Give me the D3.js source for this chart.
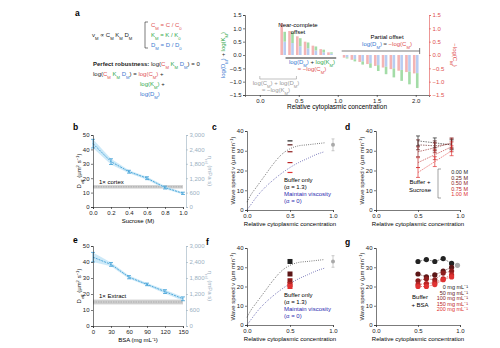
<!DOCTYPE html>
<html>
<head>
<meta charset="utf-8">
<script src="https://cdnjs.cloudflare.com/ajax/libs/d3/7.8.5/d3.min.js"></script>
<style>
  body { margin: 0; background: #fff; }
  svg { font-family: "Liberation Sans", Arial, sans-serif; }
  .tick text { font-size: 6px; fill: #222; }
  .domain, .tick line { stroke: #222; stroke-width: 0.6; }
</style>
</head>
<body>
<script>
(function(){
  // *************************************************** //
  // data
  // panel a: relative cytoplasmic concentration and log contributions
  var aConc   = [0.3, 0.4, 0.5, 0.6, 0.7, 0.8, 0.9, 1.1, 1.2, 1.3, 1.4, 1.5, 1.6, 1.7, 1.8, 1.9, 2.0];
  var aNegLogC = [1.20, 0.90, 0.70, 0.50, 0.35, 0.22, 0.10, -0.10, -0.18, -0.26, -0.34, -0.41, -0.47, -0.53, -0.59, -0.64, -0.69];
  var aLogD   = [0.50, 0.45, 0.33, 0.25, 0.17, 0.10, 0.05, -0.09, -0.16, -0.24, -0.31, -0.38, -0.44, -0.50, -0.56, -0.62, -0.68];
  var aLogK   = [0.37, 0.40, 0.30, 0.22, 0.15, 0.10, 0.05, -0.04, -0.08, -0.12, -0.17, -0.22, -0.28, -0.34, -0.41, -0.48, -0.56];
  var aXTicks = [0, 0.5, 1.0, 1.5, 2.0];
  var aYTicks = [-1.5, -1.0, -0.5, 0, 0.5, 1.0, 1.5];

  // panel b: diffusion vs sucrose
  var sucrose     = [0, 0.2, 0.4, 0.6, 0.8, 1.0];
  var sucroseD    = [44, 31.5, 24.5, 20, 13.5, 9.5];
  var sucroseErr  = [3, 2, 1, 1, 1, 0.8];
  var cortexD     = [12.8, 15.2];
  // panel e: diffusion vs BSA
  var bsa         = [0, 30, 60, 90, 120, 150];
  var bsaD        = [43, 38.5, 30.5, 26, 21.5, 17];
  var bsaErr      = [3, 1.2, 1, 0.8, 1.2, 1.2];
  var extractD    = [13.5, 16.5];
  var rightTicks  = [0, 600, 1200, 1800, 2400, 3000];

  // panels c/d: wave speed with sucrose
  var sucLabels = ["0.00 M", "0.25 M", "0.50 M", "0.75 M", "1.00 M"];
  var dilution  = [0.5, 0.7, 0.9];
  var sucSpeed  = [[35, 34, 33], [33, 32.5, 33.5], [29.5, 31.5, 34], [24, 28, 32], [19, 24.5, 30]];
  // panels f/g: wave speed with BSA
  var bsaLabels = ["0 mg mL\u207B\u00B9", "50 mg mL\u207B\u00B9", "100 mg mL\u207B\u00B9", "150 mg mL\u207B\u00B9", "200 mg mL\u207B\u00B9"];
  var dilution5 = [0.5, 0.6, 0.7, 0.8, 0.9];
  var bsaSpeed  = [[33, 34, 33, 34.5, 32], [26.5, 25, 26, 28, 30], [23, 24, 23.5, 27, 28], [21, 21.5, 22, 24, 26], [20, 20, 21, 23.5, 25]];
  var extractSpeed = [1.0, 33];

  // model curves (buffer only / maintain viscosity)
  var curveX      = [0, 0.05, 0.1, 0.2, 0.3, 0.4, 0.5, 0.6, 0.7, 0.8, 0.9];
  var curveBuffer = [4, 8, 11, 17, 23, 28, 31, 32.5, 33, 33.5, 34];
  var curveVisc   = [0, 3, 6, 11, 15, 18.5, 21.5, 24, 26, 28, 29.5];

  var shades = ["#222222", "#5c1616", "#8e1d1d", "#bb2424", "#e03232"];
  var red = "#e0504f", green = "#2fa84a", blue = "#3a78d0", cyan = "#2c96d2";

  var svg = d3.select("body").append("svg")
    .attr("width", 500).attr("height", 348);

  // *************************************************** //
  // text with coloured parts and subscripts
  function rich(g, x, y, parts, size, anchor){
    var t = g.append("text").attr("x", x).attr("y", y)
      .attr("font-size", size || 6)
      .attr("text-anchor", anchor || "start");
    parts.forEach(function(p){
      var s = t.append("tspan").text(p[0]).attr("fill", p[1] || "#222");
      if (p[2] == "sub") s.attr("baseline-shift", "sub").attr("font-size", (size || 6) * 0.7);
      if (p[2] == "sup") s.attr("baseline-shift", "super").attr("font-size", (size || 6) * 0.7);
      if (p[2] == "b") s.attr("font-weight", "bold");
    });
    return t;
  }

  function letter(x, y, s){
    svg.append("text").attr("x", x).attr("y", y)
      .attr("font-size", 8.5).attr("font-weight", "bold").text(s);
  }

  function axes(x, y, xt, yt, xf, yf){
    svg.append("g").attr("transform", "translate(0," + y.range()[0] + ")")
      .call(d3.axisBottom(x).tickValues(xt).tickSize(2).tickPadding(1.5).tickFormat(xf));
    svg.append("g").attr("transform", "translate(" + x.range()[0] + ",0)")
      .call(d3.axisLeft(y).tickValues(yt).tickSize(2).tickPadding(1.5).tickFormat(yf));
  }

  // *************************************************** //
  // panel a: equations
  letter(75, 16, "a");
  rich(svg, 92, 37, [["v"], ["M", null, "sub"], [" \u221D C"], ["M", null, "sub"], [" K"], ["M", null, "sub"], [" D"], ["M", null, "sub"]]);
  svg.append("path").attr("d", "M148,22 H145 V48 H148").attr("fill", "none").attr("stroke", "#222").attr("stroke-width", 0.6);
  rich(svg, 151, 27, [["C", red], ["M", red, "sub"], [" = C / C", red], ["0", red, "sub"]]);
  rich(svg, 151, 37, [["K", green], ["M", green, "sub"], [" = K / K", green], ["0", green, "sub"]]);
  rich(svg, 151, 47, [["D", blue], ["M", blue, "sub"], [" = D / D", blue], ["0", blue, "sub"]]);
  rich(svg, 93, 66, [["Perfect robustness:", null, "b"], ["  log("], ["C", red], ["M", red, "sub"], [" K", green], ["M", green, "sub"], [" D", blue], ["M", blue, "sub"], [") = 0"]]);
  rich(svg, 93, 76, [["log("], ["C", red], ["M", red, "sub"], [" K", green], ["M", green, "sub"], [" D", blue], ["M", blue, "sub"], [") = "], ["log(C", red], ["M", red, "sub"], [")", red], [" +"]]);
  rich(svg, 140, 86, [["log(K", green], ["M", green, "sub"], [")", green], [" +"]]);
  rich(svg, 140, 96, [["log(D", blue], ["M", blue, "sub"], [")", blue]]);

  // panel a: bar chart
  var ax = d3.scaleLinear().domain([-0.19, 2.17]).range([245, 429]);
  var ay = d3.scaleLinear().domain([-1.5, 1.5]).range([95, 15]);
  var bw = 2.6;

  svg.selectAll(".barC").data(aConc).enter().append("rect")
    .attr("class", "barC")
    .attr("x", function(d){ return ax(d) - bw - 0.2; })
    .attr("width", bw)
    .attr("y", function(d, i){ return ay(Math.max(0, aNegLogC[i])); })
    .attr("height", function(d, i){ return Math.abs(ay(aNegLogC[i]) - ay(0)); })
    .attr("fill", "#f4b4b4");
  svg.selectAll(".barD").data(aConc).enter().append("rect")
    .attr("class", "barD")
    .attr("x", function(d){ return ax(d) + 0.2; })
    .attr("width", bw)
    .attr("y", function(d, i){ return ay(Math.max(0, aLogD[i])); })
    .attr("height", function(d, i){ return Math.abs(ay(aLogD[i]) - ay(0)); })
    .attr("fill", "#b8cdf2");
  svg.selectAll(".barK").data(aConc).enter().append("rect")
    .attr("class", "barK")
    .attr("x", function(d){ return ax(d) + 0.2; })
    .attr("width", bw)
    .attr("y", function(d, i){ return ay(Math.max(aLogD[i], aLogD[i] + aLogK[i])); })
    .attr("height", function(d, i){ return Math.abs(ay(aLogK[i]) - ay(0)); })
    .attr("fill", "#a3dca7");

  svg.append("g").attr("transform", "translate(0,95)")
    .call(d3.axisBottom(ax).tickValues(aXTicks).tickSize(2).tickPadding(1.5).tickFormat(d3.format(".1f")));
  svg.append("g").attr("transform", "translate(245,0)")
    .call(d3.axisLeft(ay).tickValues(aYTicks).tickSize(2).tickPadding(1.5).tickFormat(d3.format(".1f")));
  var aRight = svg.append("g").attr("transform", "translate(429,0)")
    .call(d3.axisRight(ay).tickValues(aYTicks).tickSize(2).tickPadding(1.5).tickFormat(d3.format(".1f")));
  aRight.selectAll(".domain, .tick line").style("stroke", red);
  aRight.selectAll(".tick text").style("fill", red);

  svg.append("text").attr("x", 337).attr("y", 109).attr("font-size", 6.5)
    .attr("text-anchor", "middle").text("Relative cytoplasmic concentration");
  rich(svg, 0, 0, [["log(D", blue], ["M", blue, "sub"], [")", blue], [" + "], ["log(K", green], ["M", green, "sub"], [")", green]], 6, "middle")
    .attr("transform", "translate(225,55) rotate(-90)");
  rich(svg, 0, 0, [["\u2212log(C", red], ["M", red, "sub"], [")", red]], 6, "middle")
    .attr("transform", "translate(453,55) rotate(90)");

  // offset annotations
  svg.append("text").attr("x", 298).attr("y", 27).attr("font-size", 6).attr("text-anchor", "middle").text("Near-complete");
  svg.append("text").attr("x", 298).attr("y", 34).attr("font-size", 6).attr("text-anchor", "middle").text("offset");
  svg.append("line").attr("x1", ax(0.33)).attr("x2", ax(0.98)).attr("y1", 58).attr("y2", 58).attr("stroke", "#111").attr("stroke-width", 0.9);
  rich(svg, 312, 64, [["log(D", blue], ["M", blue, "sub"], [")", blue], [" + "], ["log(K", green], ["M", green, "sub"], [")", green]], 6, "middle");
  rich(svg, 312, 71, [["\u2248 \u2212log(C", red], ["M", red, "sub"], [")", red]], 6, "middle");

  svg.append("text").attr("x", 387).attr("y", 39).attr("font-size", 6).attr("text-anchor", "middle").text("Partial offset");
  rich(svg, 387, 46, [["log(D", blue], ["M", blue, "sub"], [")", blue], [" \u2248 "], ["\u2212log(C", red], ["M", red, "sub"], [")", red]], 6, "middle");
  svg.append("line").attr("x1", ax(1.05)).attr("x2", ax(2.05)).attr("y1", 51).attr("y2", 51).attr("stroke", "#444").attr("stroke-width", 0.7);
  svg.append("line").attr("x1", ax(2.05)).attr("x2", ax(2.05)).attr("y1", 48).attr("y2", 54).attr("stroke", "#444").attr("stroke-width", 0.7);

  var gray = "#999";
  svg.append("path").attr("d", "M" + ax(0.0) + ",76 V79 H" + ax(0.47) + " V76")
    .attr("fill", "none").attr("stroke", gray).attr("stroke-width", 0.6);
  rich(svg, 276, 85, [["log(C", gray], ["M", gray, "sub"], [") + log(D", gray], ["M", gray, "sub"], [")", gray]], 6, "middle");
  rich(svg, 276, 92, [["\u2248 \u2212log(K", gray], ["M", gray, "sub"], [")", gray]], 6, "middle");

  // *************************************************** //
  // panels b and e: diffusion coefficient with crowder
  function diffPanel(top, bottom, xs, ds, errs, xDom, xt, band, bandText, letterY, title, xf){
    var x = d3.scaleLinear().domain(xDom).range([93, 183]);
    var y = d3.scaleLinear().domain([0, 50]).range([bottom, top]);
    var y2 = d3.scaleLinear().domain([0, 3000]).range([bottom, top]);

    svg.append("rect").attr("x", x(xDom[0])).attr("width", x(xDom[1]) - x(xDom[0]))
      .attr("y", y(band[1])).attr("height", y(band[0]) - y(band[1])).attr("fill", "#cfcfcf");
    svg.append("line").attr("x1", x(xDom[0])).attr("x2", x(xDom[1]))
      .attr("y1", y((band[0] + band[1]) / 2)).attr("y2", y((band[0] + band[1]) / 2))
      .attr("stroke", "#888").attr("stroke-width", 0.5).attr("stroke-dasharray", "1.5,1");
    svg.append("text").attr("x", x(xDom[0]) + 6).attr("y", y(band[1]) - 1.5)
      .attr("font-size", 6).text(bandText);

    var area = d3.area().x(function(d, i){ return x(xs[i]); })
      .y0(function(d, i){ return y(ds[i] - errs[i]); })
      .y1(function(d, i){ return y(ds[i] + errs[i]); });
    svg.append("path").datum(ds).attr("d", area).attr("fill", "#bfe4f6").attr("opacity", 0.8);
    var line = d3.line().x(function(d, i){ return x(xs[i]); }).y(function(d){ return y(d); });
    svg.append("path").datum(ds).attr("d", line).attr("fill", "none")
      .attr("stroke", cyan).attr("stroke-width", 0.8).attr("stroke-dasharray", "2,1");
    svg.selectAll(null).data(ds).enter().append("path")
      .attr("d", function(d, i){
        var cx = x(xs[i]), a = y(d + errs[i]), b = y(d - errs[i]);
        return "M" + (cx - 2) + "," + a + "H" + (cx + 2) + "M" + cx + "," + a + "V" + b + "M" + (cx - 2) + "," + b + "H" + (cx + 2);
      })
      .attr("stroke", cyan).attr("stroke-width", 0.7).attr("fill", "none");

    axes(x, y, xt, [0, 10, 20, 30, 40, 50], xf, d3.format("d"));
    var r = svg.append("g").attr("transform", "translate(186,0)")
      .call(d3.axisRight(y2).tickValues(rightTicks).tickSize(2).tickPadding(1.5));
    r.selectAll(".domain, .tick line").style("stroke", "#9bb0bf");
    r.selectAll(".tick text").style("fill", "#9bb0bf");

    letter(73, letterY, title[0]);
    svg.append("text").attr("x", 138).attr("y", bottom + 16).attr("font-size", 6)
      .attr("text-anchor", "middle").text(title[1]);
    rich(svg, 0, 0, [["D"], ["eff", null, "sub"], [" (\u00B5m"], ["2", null, "sup"], [" s"], ["\u22121", null, "sup"], [")"]], 6, "middle")
      .attr("transform", "translate(81," + ((top + bottom) / 2) + ") rotate(-90)");
    rich(svg, 0, 0, [["\u03B7", "#9bb0bf"], ["rel", "#9bb0bf", "sub"], [" (mPa s)", "#9bb0bf"]], 6, "middle")
      .attr("transform", "translate(208," + ((top + bottom) / 2) + ") rotate(90)");
  }

  diffPanel(135, 207, sucrose, sucroseD, sucroseErr, [0, 1], sucrose, cortexD, "1\u00D7 cortex", 130, ["b", "Sucrose (M)"], d3.format(".1f"));
  diffPanel(246, 326, bsa, bsaD, bsaErr, [0, 150], bsa, extractD, "1\u00D7 Extract", 243, ["e", "BSA (mg mL\u207B\u00B9)"], d3.format("d"));

  // *************************************************** //
  // panels c and f: wave speed vs dilution with model curves
  function modelPanel(top, bottom, speeds, letterY, label, square){
    var x = d3.scaleLinear().domain([0, 1]).range([247, 333]);
    var y = d3.scaleLinear().domain([0, 40]).range([bottom, top]);
    var line = d3.line().x(function(d, i){ return x(curveX[i]); }).y(function(d){ return y(d); }).curve(d3.curveMonotoneX);
    svg.append("path").datum(curveBuffer).attr("d", line).attr("fill", "none")
      .attr("stroke", "#333").attr("stroke-width", 0.8).attr("stroke-dasharray", "0.8,1.4");
    svg.append("path").datum(curveVisc).attr("d", line).attr("fill", "none")
      .attr("stroke", "#3b3b9a").attr("stroke-width", 0.8).attr("stroke-dasharray", "0.8,1.4");

    speeds.forEach(function(v, i){
      if (square) {
        svg.append("rect").attr("x", x(0.5) - 2.5).attr("y", y(v) - 2.5).attr("width", 5).attr("height", 5).attr("fill", shades[i]);
      } else {
        svg.append("line").attr("x1", x(0.5) - 2.5).attr("x2", x(0.5) + 2.5).attr("y1", y(v)).attr("y2", y(v))
          .attr("stroke", shades[i]).attr("stroke-width", 1.2);
      }
    });
    svg.append("circle").attr("cx", x(extractSpeed[0])).attr("cy", y(extractSpeed[1])).attr("r", 2)
      .attr("fill", "#aaa");
    svg.append("path").attr("d", "M" + (x(extractSpeed[0]) - 1.5) + "," + y(extractSpeed[1] + 3) + "h3M" + x(extractSpeed[0]) + "," + y(extractSpeed[1] + 3) + "V" + y(extractSpeed[1] - 3) + "M" + (x(extractSpeed[0]) - 1.5) + "," + y(extractSpeed[1] - 3) + "h3")
      .attr("stroke", "#aaa").attr("stroke-width", 0.6);

    axes(x, y, [0, 0.5, 1.0], [0, 10, 20, 30, 40], d3.format(".1f"), d3.format("d"));
    letter(label == "c" ? 212 : 206, letterY, label);
    svg.append("text").attr("x", 290).attr("y", bottom + 16).attr("font-size", 6)
      .attr("text-anchor", "middle").text("Relative cytoplasmic concentration");
    rich(svg, 0, 0, [["Wave speed v (\u00B5m min"], ["\u22121", null, "sup"], [")"]], 6, "middle")
      .attr("transform", "translate(235," + ((top + bottom) / 2) + ") rotate(-90)");
    var ty = bottom - 28;
    svg.append("text").attr("x", 284).attr("y", ty).attr("font-size", 6).text("Buffer only");
    svg.append("text").attr("x", 284).attr("y", ty + 7).attr("font-size", 6).text("(\u03B1 = 1.3)");
    svg.append("text").attr("x", 284).attr("y", ty + 14).attr("font-size", 6).attr("fill", "#2b2bb0").text("Maintain viscosity");
    svg.append("text").attr("x", 284).attr("y", ty + 21).attr("font-size", 6).attr("fill", "#2b2bb0").text("(\u03B1 = 0)");
  }

  modelPanel(131, 210, sucSpeed.map(function(s){ return s[0]; }), 130, "c", false);
  modelPanel(248, 325, bsaSpeed.map(function(s){ return s[0]; }), 245, "f", true);

  // *************************************************** //
  // panels d and g: series of wave speeds per crowder concentration
  function seriesPanel(top, bottom, xs, series, labels, letterY, label, caption, dots){
    var x = d3.scaleLinear().domain([0, 1]).range([376, 460]);
    var y = d3.scaleLinear().domain([0, 40]).range([bottom, top]);
    var line = d3.line().x(function(d, i){ return x(xs[i]); }).y(function(d){ return y(d); });
    series.forEach(function(s, k){
      svg.append("path").datum(s).attr("d", line).attr("fill", "none")
        .attr("stroke", shades[k]).attr("stroke-width", 0.6).attr("stroke-dasharray", "1.5,1");
      if (dots) {
        svg.selectAll(null).data(s).enter().append("circle")
          .attr("cx", function(d, i){ return x(xs[i]); })
          .attr("cy", function(d){ return y(d); })
          .attr("r", 2.6).attr("fill", shades[k]);
      } else {
        svg.selectAll(null).data(s).enter().append("path")
          .attr("d", function(d, i){
            var cx = x(xs[i]), a = y(d + 2.5), b = y(d - 2.5);
            return "M" + (cx - 2) + "," + a + "H" + (cx + 2) + "M" + cx + "," + a + "V" + b + "M" + (cx - 2) + "," + b + "H" + (cx + 2);
          })
          .attr("stroke", shades[k]).attr("stroke-width", 0.7).attr("fill", "none");
      }
    });
    if (dots) {
      svg.append("circle").attr("cx", x(0.97)).attr("cy", y(31)).attr("r", 2.6).attr("fill", "#aaa");
    }
    axes(x, y, [0, 0.5, 1.0], [0, 10, 20, 30, 40], d3.format(".1f"), d3.format("d"));
    letter(345, letterY, label);
    svg.append("text").attr("x", 418).attr("y", bottom + 16).attr("font-size", 6)
      .attr("text-anchor", "middle").text("Relative cytoplasmic concentration");
    rich(svg, 0, 0, [["Wave speed v (\u00B5m min"], ["\u22121", null, "sup"], [")"]], 6, "middle")
      .attr("transform", "translate(364," + ((top + bottom) / 2) + ") rotate(-90)");

    var ly = bottom - 36;
    labels.forEach(function(t, k){
      svg.append("text").attr("x", 468).attr("y", ly + k * 5.5).attr("font-size", 5.5)
        .attr("text-anchor", "end").attr("fill", shades[k]).text(t);
    });
    // sucrose legend is grouped by a bracket
    if (!dots) {
      svg.append("path").attr("d", "M" + 441 + "," + (ly - 5) + " H438 V" + (ly + 24) + " H441")
        .attr("fill", "none").attr("stroke", "#444").attr("stroke-width", 0.5);
    }
    svg.append("text").attr("x", 420).attr("y", ly + 10).attr("font-size", 6).attr("text-anchor", "middle").text(caption[0]);
    svg.append("text").attr("x", 420).attr("y", ly + 18).attr("font-size", 6).attr("text-anchor", "middle").text(caption[1]);
  }

  seriesPanel(131, 210, dilution, sucSpeed, sucLabels, 130, "d", ["Buffer +", "Sucrose"], false);
  seriesPanel(248, 325, dilution5, bsaSpeed, bsaLabels, 245, "g", ["Buffer", "+ BSA"], true);
})();
</script>
</body>
</html>
